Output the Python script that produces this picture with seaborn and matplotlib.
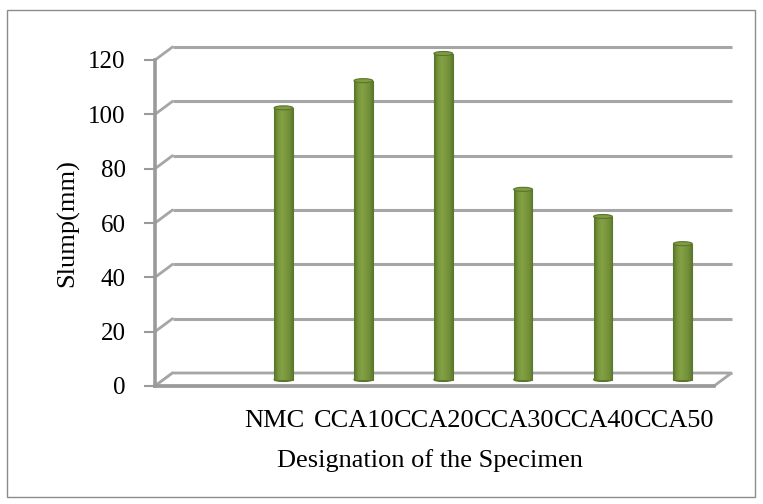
import numpy as np
import pandas as pd
import matplotlib
matplotlib.use("Agg")
import matplotlib.pyplot as plt
import matplotlib.transforms as mtransforms
from matplotlib.patches import Rectangle, Ellipse, Polygon
from matplotlib.colors import LinearSegmentedColormap
import seaborn as sns

# ---- data -------------------------------------------------------------
categories = [" ", "NMC", "CCA10", "CCA20", "CCA30", "CCA40", "CCA50"]
specimens = ["NMC", "CCA10", "CCA20", "CCA30", "CCA40", "CCA50"]
slump_mm = [100, 110, 120, 70, 60, 50]
y_ticks = [0, 20, 40, 60, 80, 100, 120]

# ---- style ------------------------------------------------------------
sns.set_theme(style="white")
plt.rcParams["font.family"] = ["Liberation Serif", "DejaVu Serif"]

W, H = 763, 504
fig = plt.figure(figsize=(W / 100, H / 100), dpi=100)
fig.patch.set_facecolor("white")

# front plane of the pseudo-3D box (pixels: x 155..714, y 386..60)
ax_left, ax_right, ax_bottom, ax_top = 155, 714, 386, 60
ax = fig.add_axes([ax_left / W, 1 - ax_bottom / H,
                   (ax_right - ax_left) / W, (ax_bottom - ax_top) / H])
ax.set_facecolor("none")

grid_c = "#a6a6a6"
axis_c = "#9a9a9a"
bar_dark = "#5a752c"

df = pd.DataFrame({"Specimen": specimens, "Slump": slump_mm})
sns.barplot(data=df, x="Specimen", y="Slump", order=categories,
            color="#77933c", saturation=1, width=0.235, ax=ax, zorder=2)

n = len(categories)
ax.set_xlim(-0.5, n - 0.5)
ax.set_ylim(0, 120)

# depth of the box in data units (back wall is 17.5 px right, 13 px up)
px_per_x = (ax_right - ax_left) / n
px_per_y = (ax_bottom - ax_top) / 120
DX = 17.5 / px_per_x
DY = 13.0 / px_per_y

# back-wall gridlines and the slanted connectors on the left side
for v in y_ticks:
    ax.plot([-0.5 + DX, n - 0.5 + DX], [v + DY, v + DY], color=grid_c,
            lw=2.2, clip_on=False, zorder=0.5, solid_capstyle="butt")
    ax.plot([-0.5, -0.5 + DX], [v, v + DY], color=grid_c, lw=2.0,
            clip_on=False, zorder=0.5)

# floor of the box
floor = Polygon([(-0.5, 0), (n - 0.5, 0), (n - 0.5 + DX, DY), (-0.5 + DX, DY)],
                closed=True, facecolor="white", edgecolor=grid_c, lw=2.0,
                clip_on=False, zorder=0.6)
ax.add_patch(floor)

# cylinders sit halfway into the depth of the box
mid_off = mtransforms.ScaledTranslation(8.75 / 100, 6.5 / 100, fig.dpi_scale_trans)
tr = ax.transData + mid_off
cyl = LinearSegmentedColormap.from_list(
    "cyl", ["#587428", "#76933a", "#84a146", "#7d9a40", "#72903a", "#5f7b2c"])
grad = np.linspace(0, 1, 64).reshape(1, -1)
cap_h = 4.0 / px_per_y

for p in list(ax.patches):
    if p is floor:
        continue
    h = p.get_height()
    if not np.isfinite(h) or h <= 0:
        continue
    x, w = p.get_x(), p.get_width()
    p.set_transform(tr)
    p.set_facecolor("none")
    p.set_edgecolor(bar_dark)
    p.set_linewidth(0.8)
    p.set_zorder(2.3)
    p.set_clip_on(False)
    # rounded base
    base = Ellipse((x + w / 2, 0), w, cap_h, transform=tr, facecolor="#708d36",
                   edgecolor=bar_dark, lw=0.8, zorder=2.0, clip_on=False)
    ax.add_patch(base)
    im = ax.imshow(grad, cmap=cyl, extent=[x, x + w, 0, h], aspect="auto",
                   interpolation="bilinear", zorder=2.2)
    im.set_transform(tr)
    im.set_clip_path(p)
    cap = Ellipse((x + w / 2, h), w, cap_h, transform=tr, facecolor="#7f9c43",
                  edgecolor=bar_dark, lw=0.8, zorder=2.4, clip_on=False)
    ax.add_patch(cap)

ax.set_xlim(-0.5, n - 0.5)
ax.set_ylim(0, 120)
ax.set_yticks(y_ticks)
ax.set_yticklabels([str(v) for v in y_ticks])

# axes lines
for side in ["top", "right"]:
    ax.spines[side].set_visible(False)
for side in ["left", "bottom"]:
    ax.spines[side].set_visible(True)
    ax.spines[side].set_color(axis_c)
    ax.spines[side].set_linewidth(2.6)
    ax.spines[side].set_zorder(3)

ax.tick_params(axis="y", left=True, length=8, width=1.5, color=axis_c,
               direction="out", pad=13, labelsize=18, labelcolor="black")
ax.tick_params(axis="x", bottom=False, length=0, pad=17, labelsize=19,
               labelcolor="black")
ax.set_xlabel("")
ax.set_ylabel("")

fig.text(68 / W, 1 - 223 / H, "Slump(mm)", rotation=90, ha="center",
         va="center", fontsize=19, color="black")
fig.text(430 / W, 1 - 467 / H, "Designation of the Specimen", ha="center",
         va="baseline", fontsize=19, color="black")

# chart frame
fig.patches.append(Rectangle((7 / W, 1 - 497 / H), 748 / W, 487 / H,
                             transform=fig.transFigure, fill=False,
                             edgecolor="#8c8c8c", lw=1.0))

fig.savefig("out.png", dpi=100)
